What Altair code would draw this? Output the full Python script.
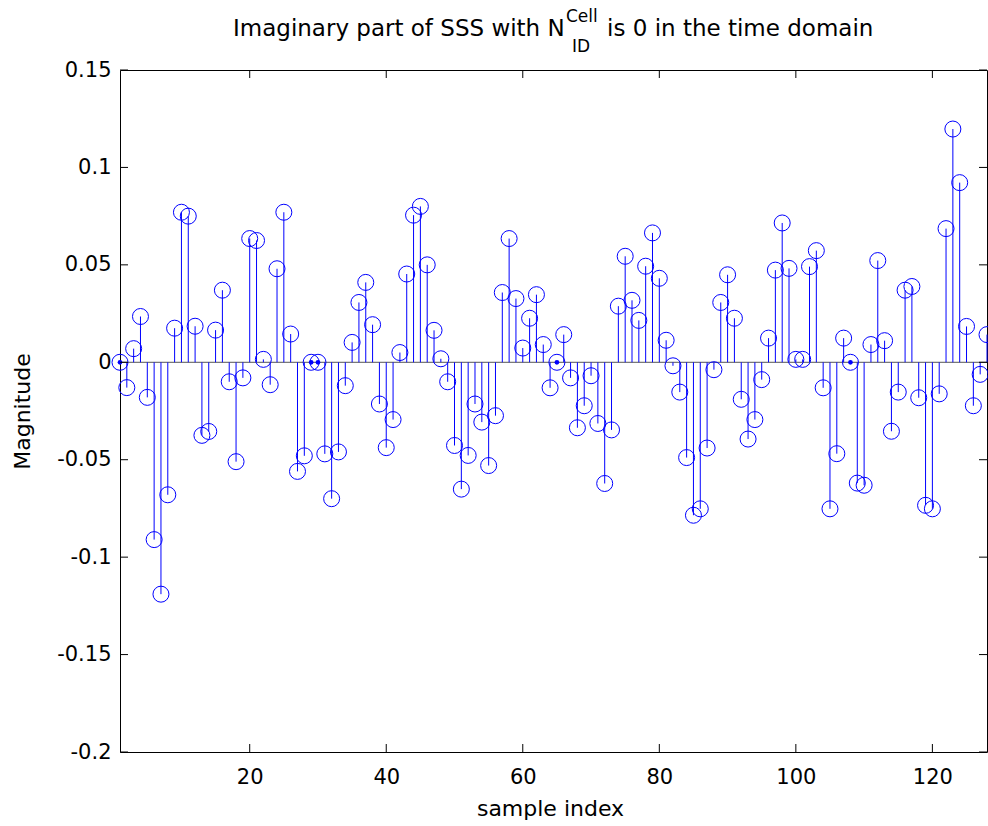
import altair as alt
import pandas as pd

# ---------------- data ----------------
IDX = list(range(1, 129))
VALUES = [
    0.0, -0.013, 0.007, 0.0235, -0.018, -0.091, -0.119, -0.068, 0.0175, 0.077,
    0.075, 0.0185, -0.0375, -0.0355, 0.0165, 0.037, -0.010, -0.051, -0.008, 0.0635,
    0.0625, 0.0015, -0.0115, 0.048, 0.077, 0.0145, -0.056, -0.048, 0.0, 0.0,
    -0.047, -0.070, -0.046, -0.012, 0.0102, 0.0307, 0.041, 0.0193, -0.0214, -0.0438,
    -0.0294, 0.005, 0.0453, 0.0755, 0.080, 0.050, 0.0164, 0.0018, -0.010, -0.0427,
    -0.0651, -0.0478, -0.0214, -0.0307, -0.053, -0.0274, 0.0358, 0.0635, 0.0327, 0.0073,
    0.0226, 0.0347, 0.0091, -0.0131, 0.0, 0.0142, -0.008, -0.0336, -0.0223, -0.0069,
    -0.0314, -0.0622, -0.0347, 0.0288, 0.0544, 0.0318, 0.0215, 0.0493, 0.0664, 0.0431,
    0.0113, -0.0018, -0.0153, -0.0489, -0.0785, -0.0752, -0.044, -0.0038, 0.0307, 0.0449,
    0.0226, -0.019, -0.0394, -0.0294, -0.0089, 0.0124, 0.0473, 0.0715, 0.0482, 0.0015,
    0.0015, 0.0491, 0.0573, -0.0131, -0.0752, -0.0469, 0.0124, 0.0, -0.062, -0.0631,
    0.0091, 0.0522, 0.0111, -0.0354, -0.0153, 0.037, 0.0389, -0.0182, -0.0734, -0.0752,
    -0.0162, 0.0686, 0.1197, 0.0922, 0.0184, -0.0223, -0.0062, 0.0142,
]
ZERO_DOT_IDX = [1, 29, 30, 65, 108]
X_TICKS = [20, 40, 60, 80, 100, 120]
Y_TICKS = [-0.2, -0.15, -0.1, -0.05, 0, 0.05, 0.1, 0.15]
X_DOMAIN = [1, 128]
Y_DOMAIN = [-0.2, 0.15]
TITLE_MAIN = "Imaginary part of SSS with N"
TITLE_SUP = "Cell"
TITLE_SUB = "ID"
TITLE_END = "is 0 in the time domain"
X_LABEL = "sample index"
Y_LABEL = "Magnitude"

# ---------------- layout / style ----------------
W, H = 867, 682
BLUE = "#0000ff"
FONT = "DejaVu Sans"

df = pd.DataFrame({"n": IDX, "v": VALUES})
dots = pd.DataFrame({"n": ZERO_DOT_IDX, "v": [VALUES[i - 1] for i in ZERO_DOT_IDX]})
yt = pd.DataFrame({"v": Y_TICKS})
xt = pd.DataFrame({"n": X_TICKS})
zero_df = pd.DataFrame({"v": [0.0]})

xs = alt.Scale(domain=X_DOMAIN, nice=False, zero=False)
ys = alt.Scale(domain=Y_DOMAIN, nice=False, zero=False)

x_axis = alt.Axis(title=X_LABEL, values=X_TICKS, grid=False, ticks=False, domain=False,
                  labelPadding=14, labelFlush=False, labelOverlap=False,
                  titleX=430, titleY=63, titleBaseline="alphabetic")
y_axis = alt.Axis(title=Y_LABEL, values=Y_TICKS, grid=False, ticks=False, domain=False,
                  labelPadding=9, labelFlush=False, labelOverlap=False,
                  labelExpr="datum.value + ''",
                  titleX=-91, titleY=H / 2, titleAngle=270, titleAlign="center",
                  titleBaseline="alphabetic")


def X():
    return alt.X("n:Q", scale=xs, axis=x_axis)


def Y():
    return alt.Y("v:Q", scale=ys, axis=y_axis)


baseline = alt.Chart(zero_df).mark_rule(color="#555555", strokeWidth=1).encode(
    y=Y(), x=alt.value(0), x2=alt.value(W))

stems = alt.Chart(df).mark_rule(color=BLUE, strokeWidth=1).encode(
    x=X(), y=Y(), y2=alt.datum(0))

circles = alt.Chart(df).mark_point(shape="circle", size=256, filled=False, color=BLUE,
                                   strokeWidth=1, opacity=1).encode(x=X(), y=Y())

dot_layer = alt.Chart(dots).mark_point(shape="circle", size=22, filled=True, color=BLUE,
                                       opacity=1).encode(x=X(), y=Y())

left_ticks = alt.Chart(yt).mark_rule(color="black").encode(y=Y(), x=alt.value(0), x2=alt.value(8))
right_ticks = alt.Chart(yt).mark_rule(color="black").encode(y=Y(), x=alt.value(W - 8), x2=alt.value(W))
bottom_ticks = alt.Chart(xt).mark_rule(color="black").encode(x=X(), y=alt.value(H - 8), y2=alt.value(H))
top_ticks = alt.Chart(xt).mark_rule(color="black").encode(x=X(), y=alt.value(0), y2=alt.value(8))


def txt(s, x, y, size):
    return alt.Chart(alt.Data(values=[{"a": 1}])).mark_text(
        text=s, align="left", baseline="alphabetic", font=FONT, fontSize=size, color="black"
    ).encode(x=alt.value(x), y=alt.value(y))


t1 = txt(TITLE_MAIN, 113, -34, 23)
t2 = txt(TITLE_SUP, 446, -48, 17)
t3 = txt(TITLE_SUB, 452, -18, 17)
t4 = txt(TITLE_END, 487, -34, 23)

chart = alt.layer(
    baseline, stems, circles, dot_layer,
    left_ticks, right_ticks, bottom_ticks, top_ticks,
    t1, t2, t3, t4,
).properties(
    width=W, height=H,
    autosize=alt.AutoSizeParams(type="none"),
    padding={"left": 120, "top": 70, "right": 1, "bottom": 74},
    background="white",
).configure_view(
    stroke="black", strokeWidth=1
).configure_axis(
    labelFont=FONT, labelFontSize=21, labelColor="black",
    titleFont=FONT, titleFontSize=22, titleColor="black", titleFontWeight="normal",
)

chart.save("out.html", embed_options={"renderer": "svg", "actions": False})
